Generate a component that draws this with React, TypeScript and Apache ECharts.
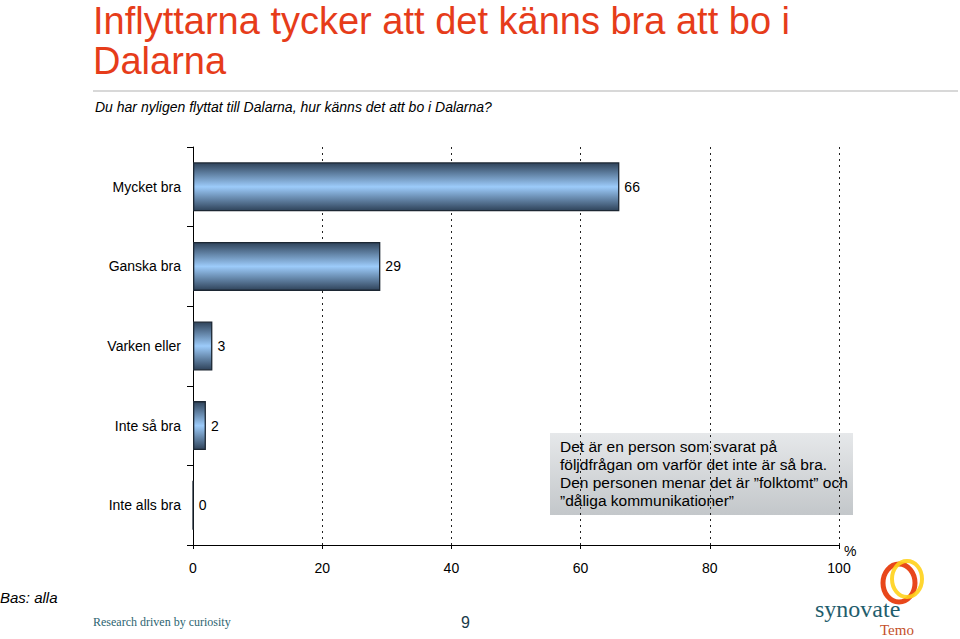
import React, { useEffect, useRef } from "react";
import * as echarts from "echarts";

const categories = ["Mycket bra", "Ganska bra", "Varken eller", "Inte så bra", "Inte alls bra"];
const values = [66, 29, 3, 2, 0];
const xTicks = { min: 0, max: 100, interval: 20 };
const titleLines = ["Inflyttarna tycker att det känns bra att bo i", "Dalarna"];
const subtitle = "Du har nyligen flyttat till Dalarna, hur känns det att bo i Dalarna?";
const noteLines = [
  "Det är en person som svarat på",
  "följdfrågan om varför det inte är så bra.",
  "Den personen menar det är \u201dfolktomt\u201d och",
  "\u201ddåliga kommunikationer\u201d",
];

const FONT = "'Liberation Sans', Arial, Helvetica, sans-serif";
const SERIF = "'Liberation Serif', 'DejaVu Serif', serif";

export default function App() {
  const ref = useRef<HTMLDivElement>(null);
  useEffect(() => {
    document.body.style.margin = "0";
    const chart = echarts.init(ref.current!, null, { renderer: "svg" });
    const barGrad = new echarts.graphic.LinearGradient(0, 0, 0, 1, [
      { offset: 0, color: "#2f435a" },
      { offset: 0.5, color: "#9ccbfa" },
      { offset: 1, color: "#2f435a" },
    ]);
    const noteGrad = new echarts.graphic.LinearGradient(0, 0, 0, 1, [
      { offset: 0, color: "#e6e8ea" },
      { offset: 1, color: "#c3c7ca" },
    ]);
    chart.setOption({
      animation: false,
      backgroundColor: "#ffffff",
      grid: { left: 193, right: 121, top: 147, bottom: 94, containLabel: false },
      xAxis: {
        type: "value",
        min: xTicks.min,
        max: xTicks.max,
        interval: xTicks.interval,
        axisLine: { show: true, lineStyle: { color: "#000", width: 1 } },
        axisTick: { show: true, length: 4, lineStyle: { color: "#000" } },
        axisLabel: { color: "#000", fontSize: 14, fontFamily: FONT, margin: 16 },
        splitLine: { show: true, lineStyle: { color: "#222", type: [2, 4], width: 1 } },
      },
      yAxis: {
        type: "category",
        data: categories,
        inverse: true,
        axisLine: { show: true, lineStyle: { color: "#000", width: 1 } },
        axisTick: { show: true, length: 6, lineStyle: { color: "#000" } },
        axisLabel: { color: "#000", fontSize: 14, fontFamily: FONT, margin: 12 },
        splitLine: { show: false },
      },
      series: [
        {
          type: "bar",
          data: values,
          barWidth: 49,
          itemStyle: { color: barGrad, borderColor: "#1c2733", borderWidth: 1.3 },
          label: {
            show: true,
            position: "right",
            distance: 5,
            color: "#000",
            fontSize: 14,
            fontFamily: FONT,
          },
        },
      ],
      graphic: [
        {
          type: "text",
          left: 93,
          top: 1,
          style: {
            text: titleLines.join("\n"),
            fill: "#e63c1a",
            font: `38px ${FONT}`,
            lineHeight: 40,
          },
        },
        {
          type: "line",
          shape: { x1: 93, y1: 91, x2: 958, y2: 91 },
          style: { stroke: "#d8d8d8", lineWidth: 2 },
        },
        {
          type: "text",
          left: 95,
          top: 100,
          style: { text: subtitle, fill: "#000", font: `italic 14px ${FONT}` },
        },
        {
          type: "rect",
          shape: { x: 550, y: 433, width: 303, height: 82 },
          style: { fill: noteGrad },
        },
        {
          type: "text",
          left: 560,
          top: 437,
          style: {
            text: noteLines.join("\n"),
            fill: "#000",
            font: `15.5px ${FONT}`,
            lineHeight: 18,
          },
        },
        {
          type: "text",
          left: 844,
          top: 544,
          style: { text: "%", fill: "#000", font: `14px ${FONT}` },
        },
        {
          type: "text",
          left: 0,
          top: 590,
          style: { text: "Bas: alla", fill: "#000", font: `italic 15px ${FONT}` },
        },
        {
          type: "text",
          left: 93,
          top: 616,
          style: { text: "Research driven by curiosity", fill: "#2d6470", font: `12px ${SERIF}` },
        },
        {
          type: "text",
          left: 461,
          top: 614,
          style: { text: "9", fill: "#1a3a4a", font: `16px ${FONT}` },
        },
        {
          type: "ellipse",
          shape: { cx: 899, cy: 583, rx: 16, ry: 19 },
          style: { fill: "none", stroke: "#e8471b", lineWidth: 5 },
        },
        {
          type: "ellipse",
          shape: { cx: 907, cy: 579, rx: 15, ry: 18 },
          style: { fill: "none", stroke: "#ffd21a", lineWidth: 4, opacity: 0.9 },
        },
        {
          type: "text",
          left: 815,
          top: 597,
          style: { text: "synovate", fill: "#1f5d6c", font: `24px ${SERIF}` },
        },
        {
          type: "text",
          left: 880,
          top: 622,
          style: { text: "Temo", fill: "#c4502a", font: `15px ${SERIF}` },
        },
      ],
    });
    return () => chart.dispose();
  }, []);
  return <div ref={ref} style={{ width: 960, height: 639 }} />;
}
